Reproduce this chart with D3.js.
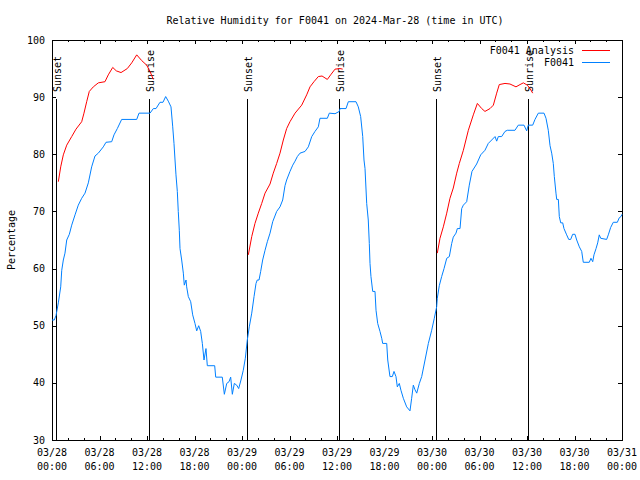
<!DOCTYPE html>
<html>
<head>
<meta charset="utf-8">
<script src="https://cdn.jsdelivr.net/npm/d3@7"></script>
<style>
  body { margin: 0; background: #fff; }
  text { font-family: "DejaVu Sans Mono", "Liberation Mono", monospace; font-size: 10px; fill: #000; }
</style>
</head>
<body>
<div id="chart"></div>
<script>
// hours after 2024-03-28 00:00 UTC, relative humidity (%)
var obs = [
  [0,51],[0.29,51],[0.51,51.8],[0.8,54],[1.1,56.8],[1.23,59.7],[1.43,61.5],[1.64,62.7],[1.86,65],
  [2.19,66],[2.49,67.6],[2.91,69.4],[3.32,71.1],[3.75,72.3],[4.17,73.2],[4.59,75],[5.01,77.8],
  [5.43,79.7],[5.85,80.2],[6.48,81.3],[6.82,82.1],[7.54,82.2],[7.83,83.4],[8.25,84.5],[8.8,86.1],
  [10.7,86.1],[10.99,87.2],[12.38,87.2],[12.8,88],[13.14,88],[13.64,89.1],[14.02,89.1],[14.36,90.1],
  [14.69,89.3],[15.03,88.3],[15.25,84.8],[15.41,81.9],[15.54,79],[15.66,76.4],[15.83,73.5],[15.95,70],
  [16.08,66.7],[16.17,63.5],[16.38,61.5],[16.59,59.2],[16.71,57.1],[16.93,58],[17.01,56.8],[17.22,55.1],
  [17.52,54.2],[17.77,51.9],[18.06,50.4],[18.28,49.1],[18.53,50],[18.78,49],[18.99,46.9],[19.2,44],
  [19.45,46],[19.62,43],[20.55,43],[20.68,41],[21.51,41],[21.77,38],[22.07,39.9],[22.36,40.2],
  [22.57,41],[22.78,38],[23.03,39.9],[23.33,39.6],[23.58,39],[23.87,40.5],[24.16,42.2],[24.42,44.3],
  [24.67,47.5],[24.92,49.8],[25.23,52.2],[25.52,55.1],[25.77,57.4],[25.93,58],[26.15,58],[26.36,59.5],
  [26.61,61.5],[26.91,63.2],[27.2,64.7],[27.54,66.2],[27.88,68.2],[28.38,70],[28.8,70.8],[29.14,72],
  [29.43,74.5],[29.64,75.5],[30.06,77],[30.41,78.1],[30.7,78.8],[30.99,79.6],[31.33,80.2],[31.96,80.5],
  [32.38,81.3],[32.81,83.1],[33.22,84],[33.64,84.8],[33.85,86.3],[34.78,86.3],[35.03,87.2],[35.75,87.1],
  [36.29,87.5],[36.38,88],[37.14,88],[37.43,89.2],[38.4,89.2],[38.69,88.3],[38.99,86.6],[39.25,83.1],
  [39.41,79],[39.54,77.5],[39.75,71.4],[39.95,68.5],[40.08,64.4],[40.17,60.9],[40.29,58.6],[40.51,56],
  [40.8,56],[40.93,52.7],[41.14,50.4],[41.43,49],[41.65,47.8],[41.77,46.9],[42.28,46.9],[42.41,44],
  [42.69,41.1],[42.99,41.1],[43.2,42],[43.45,41.1],[43.62,39.3],[43.87,39.9],[44.08,38.7],[44.38,37.3],
  [44.8,35.8],[45.22,35.1],[45.43,37.3],[45.64,39.6],[45.85,38.8],[46.07,38.2],[46.4,39.9],[46.7,41.1],
  [47.12,44],[47.54,46.9],[47.96,49.2],[48.29,51.3],[48.59,53.3],[48.67,54.8],[48.92,57],[49.22,58.6],
  [49.52,60],[49.86,61.8],[50.19,62.1],[50.49,64.4],[50.69,65.5],[51.03,66.2],[51.2,67],[51.54,67],
  [51.75,70.5],[51.96,71.1],[52.38,71.7],[52.71,74.6],[53.05,77],[53.64,78.3],[54.15,79.9],[54.69,80.7],
  [55.11,81.9],[55.54,82.5],[55.96,83.1],[56.17,82.3],[56.38,83.1],[56.8,83.1],[57.22,84],[57.51,84.2],
  [58.48,84.2],[58.9,85.1],[59.62,85.1],[59.96,84.1],[60.16,85.1],[60.72,85.1],[61.01,86.1],[61.43,87.2],
  [62.15,87.2],[62.4,86.3],[62.69,84.2],[62.91,81.5],[63.12,80.2],[63.32,78.4],[63.45,76.1],[63.66,73.2],
  [63.75,72.1],[63.96,72.1],[64.08,69.1],[64.26,68],[64.51,68],[64.67,67],[65.01,65.9],[65.27,65.1],
  [65.52,65.1],[65.77,66],[66.06,66],[66.28,65],[66.61,63.8],[66.91,63],[67.11,61.1],[67.87,61.1],
  [68.08,61.8],[68.3,61.2],[68.46,62.4],[68.72,63.5],[68.93,64.5],[69.13,65.9],[69.31,65.3],[70.06,65.1],
  [70.27,65.9],[70.57,67.2],[70.9,68.1],[71.41,68.1],[71.66,68.9],[71.87,69.1],[72,69.5]
];

var analysis1 = [
  [0.8,75.2],[1.1,77.8],[1.43,79.9],[1.86,81.6],[2.49,83.1],[3.03,84.4],[3.75,85.7],[4.04,87.2],
  [4.38,89.2],[4.71,91],[5.22,91.8],[5.85,92.5],[6.69,92.7],[7.11,93.9],[7.67,95.2],[8.12,94.6],
  [8.72,94.3],[9.51,95],[10.07,96],[10.7,97.4],[11.33,96.4],[11.96,95.6],[12.38,94.5],[12.8,93.1]
];
var analysis2 = [
  [24.8,62.4],[25.23,65.6],[25.64,67.9],[26.06,69.7],[26.49,71.4],[26.91,73.2],[27.54,74.8],[27.95,76.7],
  [28.38,78.4],[28.8,80.2],[29.22,82.5],[29.64,84.5],[30.06,85.7],[30.7,87.2],[31.54,88.6],[32.17,90.4],
  [32.59,91.8],[33.09,92.7],[33.64,93.6],[34.11,93.7],[34.78,93.1],[35.2,93.9],[35.75,94.9],[36.38,95],
  [36.72,94.9]
];
var analysis3 = [
  [48.67,62.7],[49.01,65.3],[49.43,67.3],[49.86,69.7],[50.27,72.3],[50.69,74.1],[51.12,76.7],[51.45,78.4],
  [51.96,80.7],[52.59,84.2],[53.22,86.9],[53.73,88.9],[54.28,88],[54.69,87.5],[55.33,88],[55.75,88.6],
  [56.17,90.7],[56.5,92.2],[57.22,92.4],[57.85,92.3],[58.61,91.8],[59.12,92.2],[59.54,92.5],[60.04,92.1],
  [60.38,91.5],[60.72,90.7]
];

var sunEvents = [
  [0.51, "Sunset"], [12.29, "Sunrise"], [24.59, "Sunset"],
  [36.29, "Sunrise"], [48.54, "Sunset"], [60.16, "Sunrise"]
];

var startTime = Date.UTC(2024, 2, 28);
function toDate(h) { return new Date(startTime + h * 3600000); }

var margin = {top: 40, right: 18, bottom: 40, left: 52},
    width = 640 - margin.left - margin.right,
    height = 480 - margin.top - margin.bottom;

var svg = d3.select("#chart").append("svg")
    .attr("width", 640)
    .attr("height", 480);

var g = svg.append("g")
    .attr("transform", "translate(" + margin.left + "," + margin.top + ")");

var x = d3.scaleUtc()
    .domain([toDate(0), toDate(72)])
    .range([0, width]);

var y = d3.scaleLinear()
    .domain([30, 100])
    .range([height, 0]);

// ticks, all pointing inward like gnuplot
var minor = d3.utcHour.every(2).range(toDate(0), toDate(72.01));
var major = d3.utcHour.every(6).range(toDate(0), toDate(72.01));

g.append("g")
    .attr("transform", "translate(0," + height + ")")
    .call(d3.axisBottom(x).tickValues(minor).tickSize(-2).tickFormat(""));
g.append("g")
    .attr("transform", "translate(0," + height + ")")
    .call(d3.axisBottom(x).tickValues(major).tickSize(-4).tickFormat(""));
g.append("g")
    .call(d3.axisTop(x).tickValues(minor).tickSize(-2).tickFormat(""));
g.append("g")
    .call(d3.axisTop(x).tickValues(major).tickSize(-4).tickFormat(""));
g.append("g")
    .call(d3.axisLeft(y).ticks(7).tickSize(-4).tickFormat(""));
g.append("g")
    .attr("transform", "translate(" + width + ",0)")
    .call(d3.axisRight(y).ticks(7).tickSize(-4).tickFormat(""));

g.selectAll(".domain").remove();
g.selectAll(".tick line")
    .attr("stroke", "#000")
    .attr("shape-rendering", "crispEdges");

g.append("rect")
    .attr("width", width)
    .attr("height", height)
    .attr("fill", "none")
    .attr("stroke", "#000")
    .attr("shape-rendering", "crispEdges");

// y tick labels
g.selectAll(".ylab")
    .data(y.ticks(7))
    .enter().append("text")
    .attr("x", -7)
    .attr("y", function(d) { return y(d); })
    .attr("dy", "0.35em")
    .style("text-anchor", "end")
    .text(function(d) { return d; });

// x tick labels in two lines
var xlab = g.selectAll(".xlab")
    .data(major)
    .enter().append("text")
    .attr("x", function(d) { return x(d); })
    .attr("y", height + 16)
    .style("text-anchor", "middle");
xlab.append("tspan")
    .attr("x", function(d) { return x(d); })
    .text(d3.utcFormat("%m/%d"));
xlab.append("tspan")
    .attr("x", function(d) { return x(d); })
    .attr("dy", 14)
    .text(d3.utcFormat("%H:%M"));

// sunset / sunrise markers
var sun = g.selectAll(".sun")
    .data(sunEvents)
    .enter().append("g");
sun.append("line")
    .attr("x1", function(d) { return Math.round(x(toDate(d[0]))) + 0.5; })
    .attr("x2", function(d) { return Math.round(x(toDate(d[0]))) + 0.5; })
    .attr("y1", 59)
    .attr("y2", height)
    .attr("stroke", "#000");
sun.append("text")
    .attr("transform", function(d) {
        return "translate(" + (x(toDate(d[0])) + 1.5) + ",52) rotate(-90)";
    })
    .attr("dy", "0.35em")
    .style("text-anchor", "start")
    .text(function(d) { return d[1]; });

var line = d3.line()
    .x(function(d) { return x(toDate(d[0])); })
    .y(function(d) { return y(d[1]); });

[analysis1, analysis2, analysis3].forEach(function(seg) {
    g.append("path")
        .datum(seg)
        .attr("fill", "none")
        .attr("stroke", "#ff0000")
        .attr("stroke-width", 1)
        .attr("d", line);
});

g.append("path")
    .datum(obs)
    .attr("fill", "none")
    .attr("stroke", "#0080ff")
    .attr("stroke-width", 1)
    .attr("d", line);

// legend
var legend = g.selectAll(".legend")
    .data([["F0041 Analysis", "#ff0000"], ["F0041", "#0080ff"]])
    .enter().append("g")
    .attr("transform", function(d, i) { return "translate(0," + (10 + i * 12) + ")"; });
legend.append("text")
    .attr("x", width - 48)
    .attr("dy", "0.35em")
    .style("text-anchor", "end")
    .text(function(d) { return d[0]; });
legend.append("line")
    .attr("x1", width - 40)
    .attr("x2", width - 12)
    .attr("y1", 0.5)
    .attr("y2", 0.5)
    .attr("stroke", function(d) { return d[1]; });

// title and y label
svg.append("text")
    .attr("x", 335)
    .attr("y", 20)
    .attr("dy", "0.35em")
    .style("text-anchor", "middle")
    .text("Relative Humidity for F0041 on 2024-Mar-28 (time in UTC)");

svg.append("text")
    .attr("transform", "translate(11,240) rotate(-90)")
    .attr("dy", "0.35em")
    .style("text-anchor", "middle")
    .text("Percentage");
</script>
</body>
</html>
